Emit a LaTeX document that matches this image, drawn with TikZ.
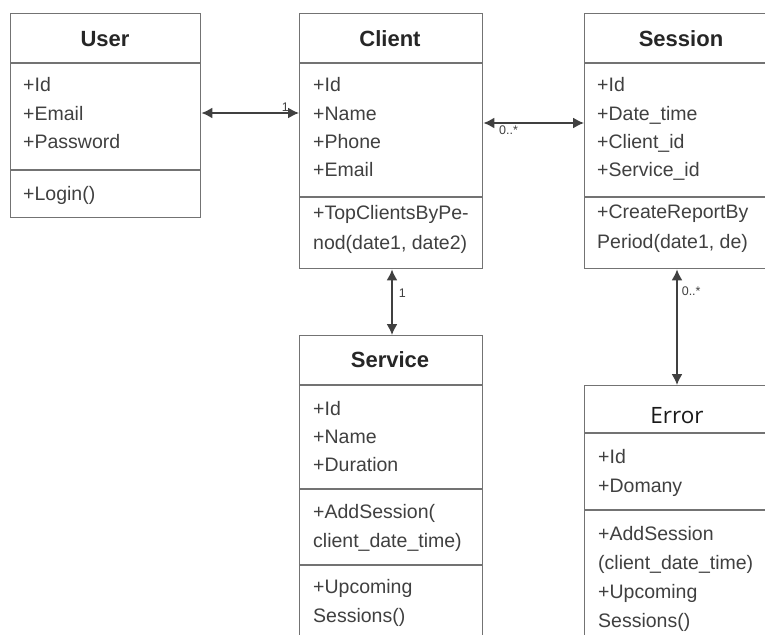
\documentclass[tikz,border=0pt]{standalone}
\usepackage{fontspec}
\setmainfont{Liberation Sans}
\newfontfamily\errfont{Open Sans}
\usetikzlibrary{arrows.meta,positioning}

\begin{document}
\begin{tikzpicture}[x=1pt,y=-1pt,
    box/.style={draw=black!55,line width=1.4pt,fill=white,anchor=north west,inner sep=0pt},
    div/.style={draw=black!55,line width=1.4pt},
    title/.style={font=\fontsize{22}{26}\selectfont\bfseries,text=black!85,anchor=base},
    item/.style={font=\fontsize{19.5}{28}\selectfont,text=black!75,anchor=base west,inner sep=0pt},
    mult/.style={font=\fontsize{12.5}{14}\selectfont,text=black!75,inner sep=1pt},
    assoc/.style={{Latex[length=11pt,width=11pt]}-{Latex[length=11pt,width=11pt]},line width=1.6pt,black!75}]
\useasboundingbox (0,0) rectangle (765,634);
\clip (0,0) rectangle (765,634);

% class boxes
\node[box,minimum width=190,minimum height=204] (user) at (10,13) {};
\node[box,minimum width=183,minimum height=255] (client) at (299,13) {};
\node[box,minimum width=194,minimum height=255] (session) at (584,13) {};
\node[box,minimum width=183,minimum height=320] (service) at (299,335) {};
\node[box,minimum width=194,minimum height=270] (error) at (584,385) {};
\foreach \b/\d in {user/50,user/157,client/50,client/184,session/50,session/184,
    service/50,service/154,service/230,error/48,error/125}
  \draw[div] ([yshift=-\d pt]\b.north west) -- ([yshift=-\d pt]\b.north east);

% User
\node[title] (user_t) at (105,47) {User};
\foreach \t [count=\i from 0] in {+Id,+Email,+Password}
  \node[item] (user_a\i) at (23,92+28*\i) {\t};
\node[item] (user_m0) at (23,200) {+Login()};

% Client
\node[title] (client_t) at (390,47) {Client};
\foreach \t [count=\i from 0] in {+Id,+Name,+Phone,+Email}
  \node[item] (client_a\i) at (313,92+28.3*\i) {\t};
\foreach \t [count=\i from 0] in {+TopClientsByPe-,{nod(date1, date2)}}
  \node[item] (client_m\i) at (313,219+30*\i) {\t};

% Session
\node[title] (session_t) at (681,47) {Session};
\foreach \t [count=\i from 0] in {+Id,+Date\_time,+Client\_id,+Service\_id}
  \node[item] (session_a\i) at (597,92+28.3*\i) {\t};
\foreach \t [count=\i from 0] in {+CreateReportBy,{Period(date1, de)}}
  \node[item] (session_m\i) at (597,218+30*\i) {\t};

% Service
\node[title] (service_t) at (390,367) {Service};
\foreach \t [count=\i from 0] in {+Id,+Name,+Duration}
  \node[item] (service_a\i) at (313,415+28*\i) {\t};
\foreach \t [count=\i from 0] in {+AddSession(,{client\_date\_time)}}
  \node[item] (service_m\i) at (313,518+29*\i) {\t};
\foreach \t [count=\i from 0] in {+Upcoming,Sessions()}
  \node[item] (service_u\i) at (313,593+29*\i) {\t};

% Error
\node[anchor=base,font=\errfont\fontsize{22.5}{26}\selectfont,text=black!90] (error_t) at (677,423) {Error};
\foreach \t [count=\i from 0] in {+Id,+Domany}
  \node[item] (error_a\i) at (598,463+29*\i) {\t};
\foreach \t [count=\i from 0] in {+AddSession,{(client\_date\_time)},+Upcoming,Sessions()}
  \node[item] (error_m\i) at (598,540+29.3*\i) {\t};

% associations
\coordinate (uc) at (0,113);
\coordinate (cs) at (0,123);
\coordinate (cv) at (392,0);
\coordinate (se) at (677,0);
\draw[assoc] (user.east|-uc) -- (client.west|-uc) node[mult,pos=0.86,above] {1};
\draw[assoc] (client.east|-cs) -- (session.west|-cs) node[mult,pos=0.25,below,yshift=-1pt] {0..*};
\draw[assoc] (client.south-|cv) -- (service.north-|cv) node[mult,pos=0.36,right,xshift=5pt] {1};
\draw[assoc] (session.south-|se) -- (error.north-|se) node[mult,pos=0.19,right,xshift=3pt] {0..*};
\end{tikzpicture}
\end{document}
